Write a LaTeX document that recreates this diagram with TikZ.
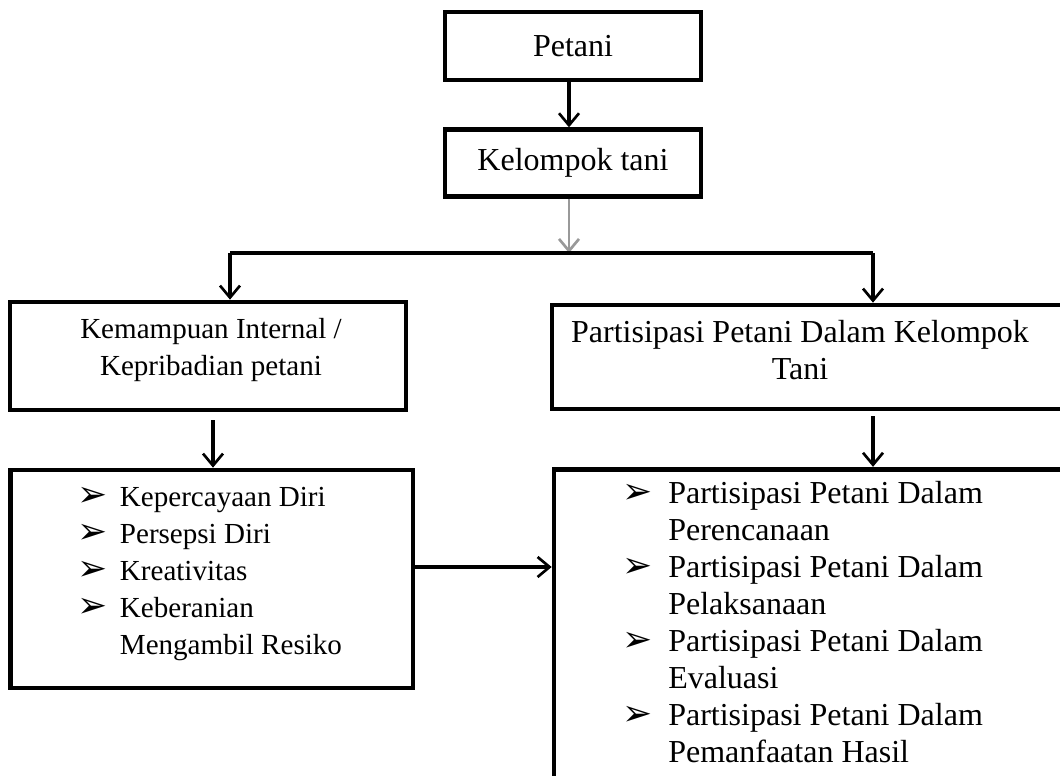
\documentclass[tikz,border=0pt]{standalone}
\usepackage{fontspec}
\setmainfont{Liberation Serif}
\newfontfamily\arrfont{DejaVu Sans}
\usetikzlibrary{arrows.meta,calc,positioning}
\newcommand{\pnt}{{\arrfont\fontsize{27pt}{27pt}\selectfont ➢}}
\tikzset{
    box/.style={
    rectangle,draw=black,line width=3.5pt,inner sep=0pt
    },
    link/.style={
    draw=black,line width=2.5pt
    },
    arr/.style={
    link,-{Straight Barb[length=9pt,width=15pt,line width=2pt]}
    },
    txt/.style={
    inner sep=0pt,align=center
    },
    lefttxt/.style={
    font=\fontsize{21.8pt}{27.75pt}\selectfont
    },
}

\begin{document}
\begin{tikzpicture}[x=0.75pt, y=-0.75pt, font=\fontsize{24pt}{27.75pt}\selectfont]
   \useasboundingbox (0,0) rectangle (1060,775);
   \clip (0,0) rectangle (1060,775);
   % boxes
   \node[box, minimum width=192pt, minimum height=51pt] (petani) at (573,46) {Petani};
   \node[box, minimum width=192pt, minimum height=50pt] (kelompok) at (573,163) {Kelompok tani};
   \node[box, minimum width=297pt, minimum height=81pt] (kemampuan) at (208,356) {};
   \node[txt, lefttxt] (kemtxt) at (211,350) {Kemampuan Internal /\\ Kepribadian petani};
   \node[box, minimum width=396pt, minimum height=78pt] (partisipasi) at (816,357) {};
   \node[txt] (partxt) at (800,350) {Partisipasi Petani Dalam Kelompok\\ Tani};
   \node[box, minimum width=302pt, minimum height=163.5pt] (ciri) at (211.5,579) {};
   \node[box, minimum width=394.5pt, minimum height=248pt] (bentuk) at (817,634.5) {};

   % lists
   \node[anchor=base west, inner sep=0pt, lefttxt] (ciritxt) at (77,506) {%
     \begin{tabular}[t]{@{}p{32pt}@{}l@{}}
       \pnt & Kepercayaan Diri\\
       \pnt & Persepsi Diri\\
       \pnt & Kreativitas\\
       \pnt & Keberanian\\
            & Mengambil Resiko
     \end{tabular}};
   \node[anchor=base west, inner sep=0pt] (bentuktxt) at (622,503) {%
     \begin{tabular}[t]{@{}p{34.5pt}@{}l@{}}
       \pnt & Partisipasi Petani Dalam\\
            & Perencanaan\\
       \pnt & Partisipasi Petani Dalam\\
            & Pelaksanaan\\
       \pnt & Partisipasi Petani Dalam\\
            & Evaluasi\\
       \pnt & Partisipasi Petani Dalam\\
            & Pemanfaatan Hasil
     \end{tabular}};

   % connectors
   \coordinate (jn) at (569,253);
   \coordinate (jl) at (230,253);
   \coordinate (jr) at (873,253);
   \coordinate (kd) at (213,420);
   \coordinate (pd) at (873,416);
   \draw[arr] (petani.south -| jn) -- (kelompok.north -| jn);
   \draw[arr, draw=black!40, line width=1.5pt] (kelompok.south -| jn) -- (jn);
   \draw[link, line width=3pt] (jl) -- (jr);
   \draw[arr] (jl) -- (jl |- kemampuan.north);
   \draw[arr] (jr) -- (jr |- partisipasi.north);
   \draw[arr] (kd) -- (kd |- ciri.north);
   \draw[arr] (pd) -- (pd |- bentuk.north);
   \draw[arr] (ciri.east |- 0,567) -- (bentuk.west |- 0,567);
\end{tikzpicture}
\end{document}
